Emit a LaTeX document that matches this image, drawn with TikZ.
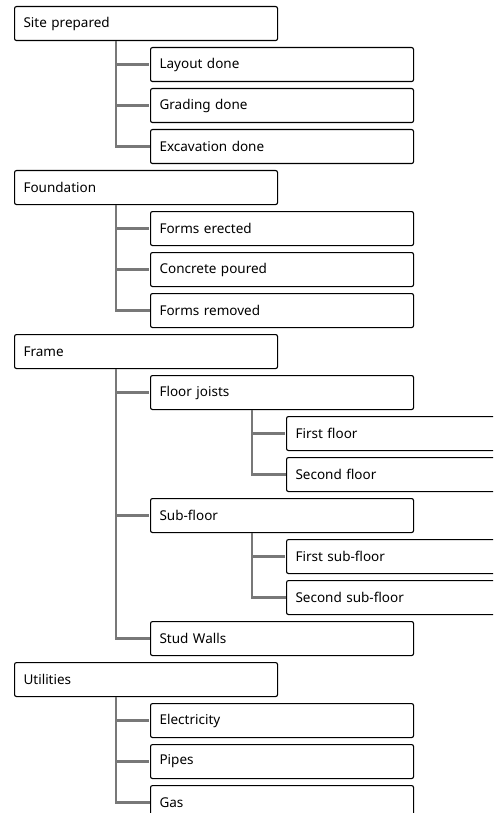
\documentclass[tikz,border=0pt]{standalone}
\usepackage{fontspec}
\setmainfont{Noto Sans}
\usetikzlibrary{calc}
\definecolor{conn}{HTML}{787878}
\tikzset{
  box/.style={draw=black, line width=1.1pt, rounded corners=2pt, fill=white,
    minimum width=263pt, minimum height=34pt, text width=245pt, inner xsep=9pt,
    inner ysep=0pt, align=left, anchor=north west, font=\fontsize{13.5}{16}\selectfont},
  link/.style={draw=conn, line width=2.6pt}
}
\begin{document}
\begin{tikzpicture}[x=1pt,y=-1pt]
\useasboundingbox (0,0) rectangle (493,813);
\clip (0,0) rectangle (493,813);
\fill[white] (0,0) rectangle (493,813);
% level 0
\node[box] (site) at (14,6) {Site prepared};
\node[box] (found) at (14,170) {Foundation};
\node[box] (frame) at (14,334) {Frame};
\node[box] (util) at (14,662) {Utilities};
% level 1
\node[box] (layout) at (150,47) {Layout done};
\node[box] (grading) at (150,88) {Grading done};
\node[box] (excav) at (150,129) {Excavation done};
\node[box] (forms) at (150,211) {Forms erected};
\node[box] (concrete) at (150,252) {Concrete poured};
\node[box] (removed) at (150,293) {Forms removed};
\node[box] (joists) at (150,375) {Floor joists};
\node[box] (subfloor) at (150,498) {Sub-floor};
\node[box] (stud) at (150,621) {Stud Walls};
\node[box] (elec) at (150,703) {Electricity};
\node[box] (pipes) at (150,744) {Pipes};
\node[box] (gas) at (150,785) {Gas};
% level 2
\node[box] (ff) at (286,416) {First floor};
\node[box] (sf) at (286,457) {Second floor};
\node[box] (fsf) at (286,539) {First sub-floor};
\node[box] (ssf) at (286,580) {Second sub-floor};
% connectors
\foreach \p/\last/\kids in {site/excav/{layout,grading,excav},
                            found/removed/{forms,concrete,removed},
                            frame/stud/{joists,subfloor,stud},
                            util/gas/{elec,pipes,gas},
                            joists/sf/{ff,sf},
                            subfloor/ssf/{fsf,ssf}}{
  \draw[link] ($(\p.south west)+(102,0.6)$) |- (\last.west);
  \foreach \c in \kids {
    \draw[link] ($(\p.south west)+(102,0)$) |- ($(\c.west)+(-0.6,0)$);
  }
}
\end{tikzpicture}
\end{document}
